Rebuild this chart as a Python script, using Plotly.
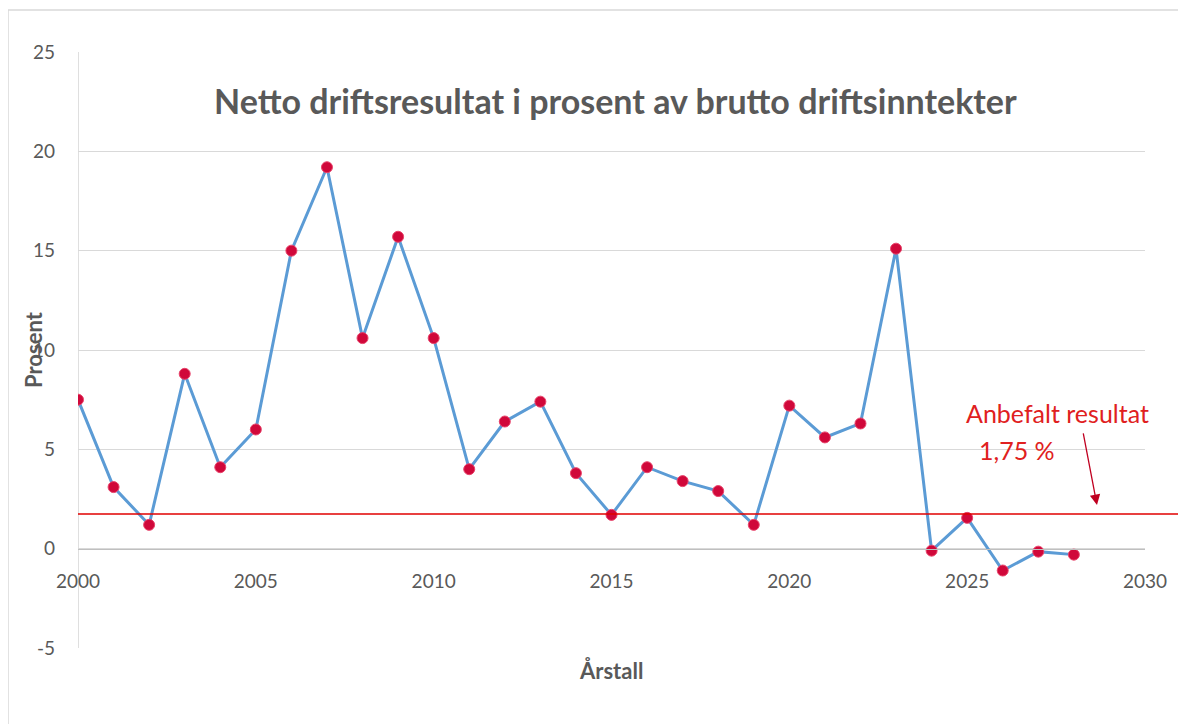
import plotly.graph_objects as go

years = list(range(2000, 2029))
values = [7.5, 3.1, 1.2, 8.8, 4.1, 6.0, 15.0, 19.2, 10.6, 15.7, 10.6, 4.0, 6.4, 7.4,
          3.8, 1.7, 4.1, 3.4, 2.9, 1.2, 7.2, 5.6, 6.3, 15.1, -0.1, 1.55, -1.1, -0.15, -0.3]
anbefalt = 1.75
y_ticks = [-5, 0, 5, 10, 15, 20, 25]
y_ticklabels = ["-5", "0", "5", "10", "15", "20", "25"]
title_text = "Netto driftsresultat i prosent av brutto driftsinntekter"
x_title = "Årstall"
y_title = "Prosent"

FONT = "Lato"
GRAY = "#595959"

fig = go.Figure()
fig.add_trace(go.Scatter(
    x=years, y=values, mode="lines+markers",
    line=dict(color="#5B9BD5", width=3),
    marker=dict(color="#D0083A", size=11, line=dict(color="#E8436A", width=1)),
    showlegend=False,
))

OFF = 8  # page body margin
W, H = 1186, 724
SL, SR, ST, SB = 78, 1145, 52, 648
L = SL - OFF
T = ST - OFF
R = W - (SR - OFF)
B = H - (SB - OFF)
pw, ph = SR - SL, SB - ST

def px_x(px):
    return (px - SL) / pw

def px_y(py):
    return (SB - py) / ph

fig.add_shape(type="rect", xref="paper", yref="paper",
              x0=px_x(8), x1=px_x(1200), y0=px_y(740), y1=px_y(10),
              line=dict(color="#D9D9D9", width=1.5), layer="below")

fig.add_shape(type="line", xref="paper", yref="y",
              x0=0, x1=px_x(1182), y0=anbefalt, y1=anbefalt,
              line=dict(color="#E00000", width=1.5))

fig.add_annotation(x=2028.65, y=2.2, xref="x", yref="y", text="", showarrow=True,
                   ax=-14, ay=-73, arrowhead=2, arrowsize=1.6, arrowwidth=1.3,
                   arrowcolor="#C00020")
fig.add_annotation(x=px_x(1057), y=px_y(413), xref="paper", yref="paper",
                   xanchor="center", yanchor="middle",
                   text="Anbefalt resultat", showarrow=False,
                   font=dict(family=FONT, size=25, color="#E02020"))
fig.add_annotation(x=px_x(1017), y=px_y(450), xref="paper", yref="paper",
                   xanchor="center", yanchor="middle",
                   text="1,75 %", showarrow=False,
                   font=dict(family=FONT, size=25, color="#E02020"))

fig.add_annotation(x=px_x(615), y=px_y(100), xref="paper", yref="paper",
                   xanchor="center", yanchor="middle",
                   text="<b>" + title_text + "</b>", showarrow=False,
                   font=dict(family=FONT, size=34, color=GRAY))
fig.add_annotation(x=px_x(611), y=px_y(670), xref="paper", yref="paper",
                   xanchor="center", yanchor="middle",
                   text="<b>" + x_title + "</b>", showarrow=False,
                   font=dict(family=FONT, size=22, color=GRAY))
fig.add_annotation(x=px_x(33), y=px_y(350), xref="paper", yref="paper",
                   xanchor="center", yanchor="middle",
                   text="<b>" + y_title + "</b>", showarrow=False, textangle=-90,
                   font=dict(family=FONT, size=22, color=GRAY))

fig.update_layout(
    width=W, height=H,
    margin=dict(l=L, r=R, t=T, b=B, pad=0),
    paper_bgcolor="white", plot_bgcolor="white",
    font=dict(family=FONT, color=GRAY, size=18),
    xaxis=dict(range=[2000, 2030], dtick=5, tick0=2000, showgrid=False,
               zeroline=False, showline=True, linecolor="#BFBFBF", linewidth=1,
               anchor="free", position=(0 - (-5)) / 30,
               ticks="outside", ticklen=0, ticklabelstandoff=16,
               tickfont=dict(family=FONT, size=19, color=GRAY)),
    yaxis=dict(range=[-5, 25], tickmode="array", tickvals=y_ticks, ticktext=y_ticklabels,
               showgrid=True, gridcolor="#D9D9D9",
               gridwidth=1, zeroline=False, showline=False,
               ticks="", ticklabelstandoff=22,
               tickfont=dict(family=FONT, size=19, color=GRAY)),
    shapes=list(fig.layout.shapes) + [
        dict(type="line", xref="x", yref="paper", x0=2000, x1=2000, y0=0, y1=1,
             line=dict(color="#BFBFBF", width=1), layer="below")
    ],
)

fig.write_html("out.html")
